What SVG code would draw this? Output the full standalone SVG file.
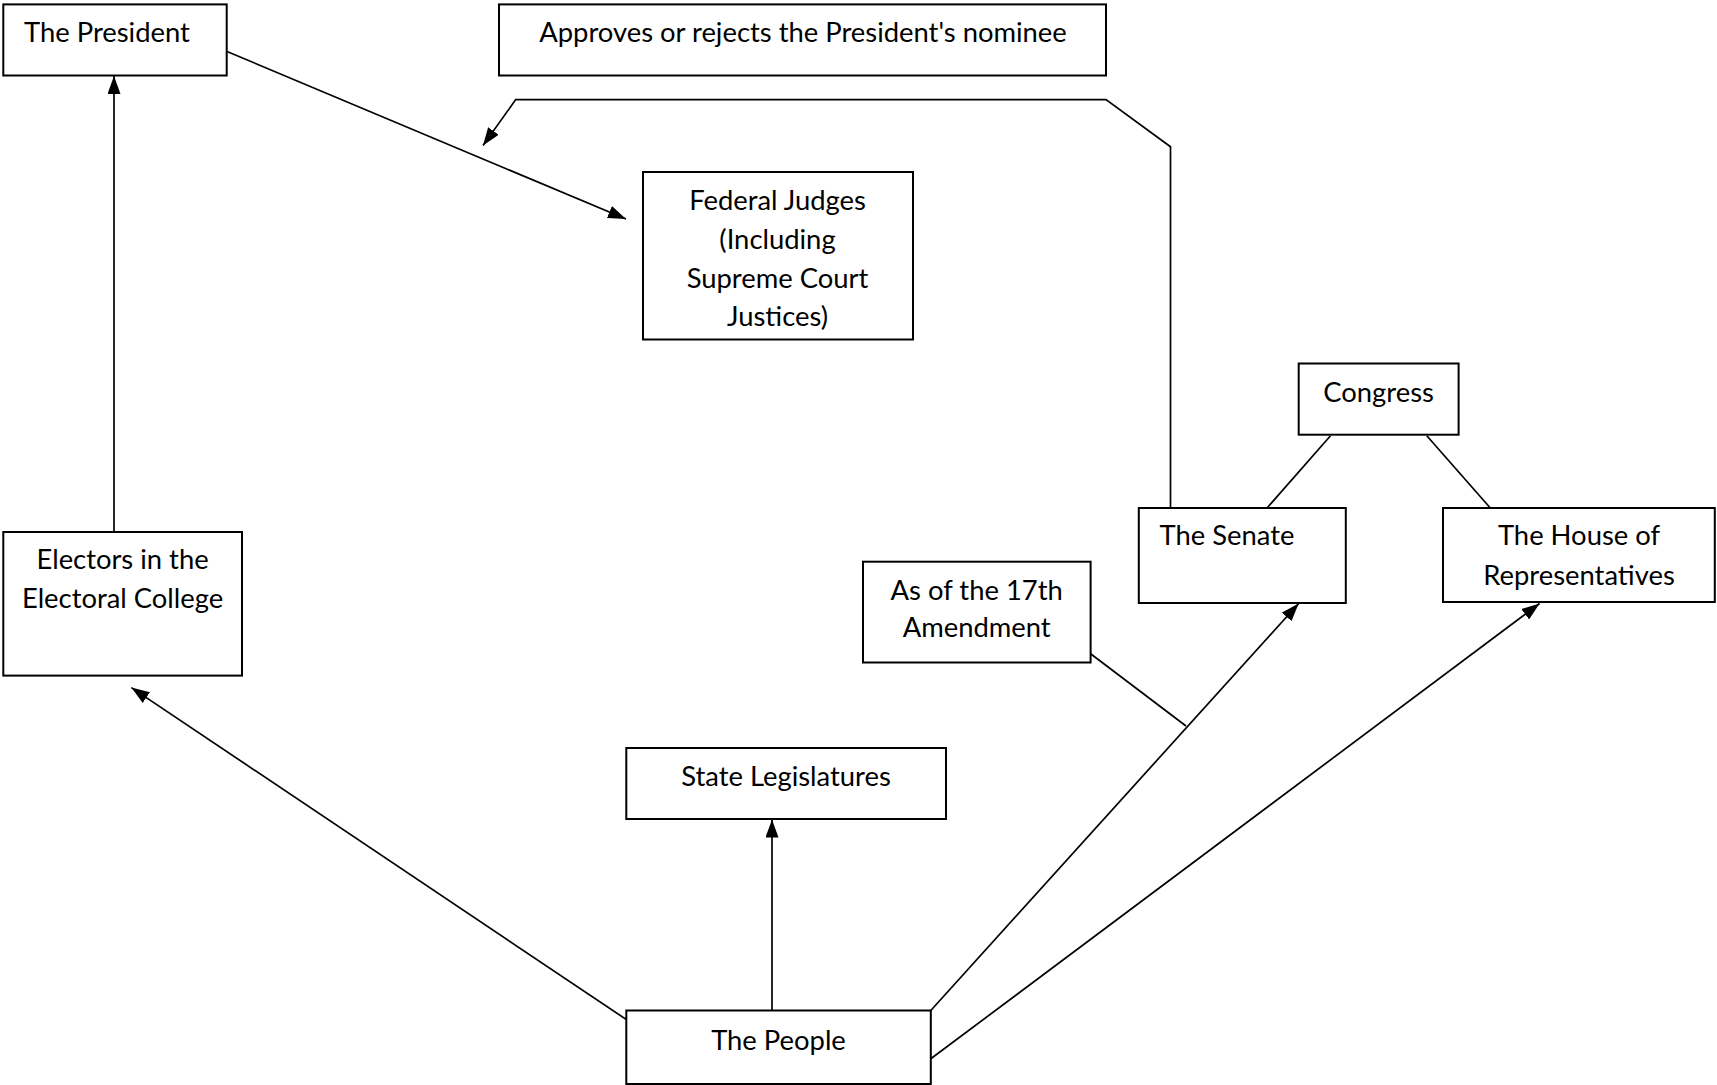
<svg xmlns="http://www.w3.org/2000/svg" width="1717" height="1085" viewBox="0 0 1717 1085">
<style>
.box{fill:#fff;stroke:#000;stroke-width:2}
.t{font-family:Lato,"Liberation Sans",sans-serif;font-size:27.4px;fill:#000}
.c{text-anchor:middle}
.ln{fill:none;stroke:#000;stroke-width:1.7}
</style>
<defs>
<marker id="ah" viewBox="0 0 18 13" refX="18" refY="6.5" markerWidth="18" markerHeight="13" markerUnits="userSpaceOnUse" orient="auto">
<path d="M0,0 L18,6.5 L0,13 Z" fill="#000"/>
</marker>
</defs>
<rect width="1717" height="1085" fill="#fff"/>
<g id="connectors">
<line class="ln" x1="114" y1="532" x2="114" y2="76" marker-end="url(#ah)"/>
<line class="ln" x1="227" y1="51.5" x2="626" y2="219" marker-end="url(#ah)"/>
<polyline class="ln" points="1170.5,508 1170.5,146.7 1106,99.6 515.7,99.6 483,145.6" marker-end="url(#ah)"/>
<line class="ln" x1="626.3" y1="1019.5" x2="131.4" y2="687.6" marker-end="url(#ah)"/>
<line class="ln" x1="772" y1="1010.5" x2="772" y2="819.5" marker-end="url(#ah)"/>
<line class="ln" x1="930.8" y1="1010.5" x2="1298.7" y2="603.5" marker-end="url(#ah)"/>
<line class="ln" x1="930.8" y1="1058.8" x2="1539.6" y2="603.5" marker-end="url(#ah)"/>
<line class="ln" x1="1090.6" y1="653.7" x2="1186" y2="726"/>
<line class="ln" x1="1330.5" y1="435.8" x2="1267" y2="508"/>
<line class="ln" x1="1426.8" y1="435.8" x2="1490.3" y2="508"/>
</g>
<g id="president"><rect class="box" x="3.3" y="4.4" width="223.4" height="71.1"/><text class="t" x="24" y="42">The President</text></g>
<g id="approves"><rect class="box" x="499" y="4.4" width="607" height="71.1"/><text class="t c" x="803" y="42">Approves or rejects the President's nominee</text></g>
<g id="judges"><rect class="box" x="643" y="172" width="270" height="167.5"/>
<text class="t c" x="777.5" y="210">Federal Judges</text>
<text class="t c" x="777.5" y="249">(Including</text>
<text class="t c" x="777.5" y="288">Supreme Court</text>
<text class="t c" x="777.5" y="326">Justices)</text></g>
<g id="electors"><rect class="box" x="3.3" y="532" width="238.7" height="143.6"/>
<text class="t c" x="122.6" y="569">Electors in the</text>
<text class="t c" x="122.6" y="608">Electoral College</text></g>
<g id="state"><rect class="box" x="626.3" y="748" width="319.7" height="71"/><text class="t c" x="786" y="786">State Legislatures</text></g>
<g id="people"><rect class="box" x="626.3" y="1010.5" width="304.5" height="73.5"/><text class="t c" x="778.5" y="1050">The People</text></g>
<g id="amendment"><rect class="box" x="863" y="561.7" width="227.6" height="100.8"/>
<text class="t c" x="976.7" y="600">As of the 17th</text>
<text class="t c" x="976.7" y="637">Amendment</text></g>
<g id="congress"><rect class="box" x="1298.7" y="363.5" width="159.9" height="71.2"/><text class="t c" x="1378.6" y="402">Congress</text></g>
<g id="senate"><rect class="box" x="1138.8" y="508" width="207" height="95"/><text class="t" x="1159.6" y="545">The Senate</text></g>
<g id="house"><rect class="box" x="1443" y="508" width="271.8" height="94"/>
<text class="t c" x="1579" y="545">The House of</text>
<text class="t c" x="1579" y="585">Representatives</text></g>
</svg>
